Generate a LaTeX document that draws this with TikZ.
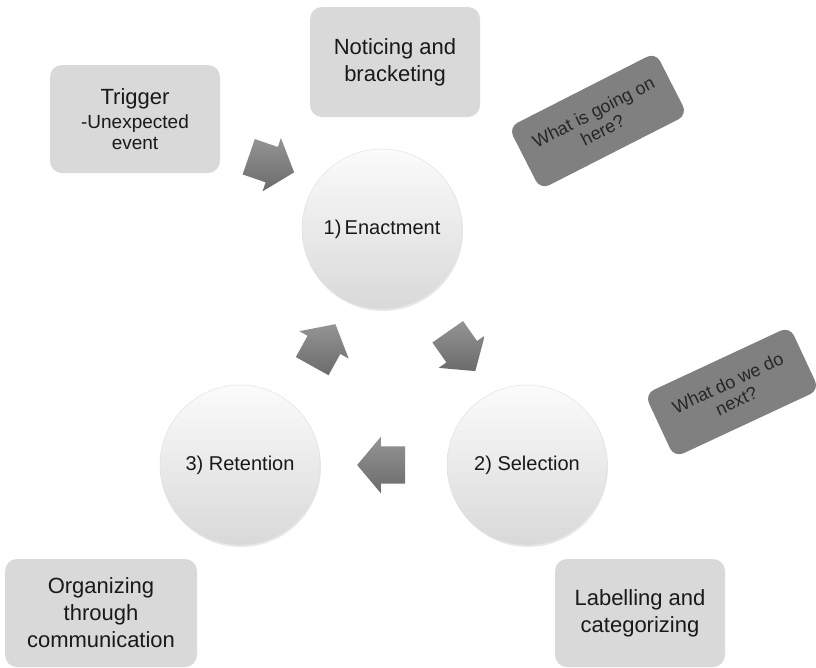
\documentclass[tikz,border=0pt]{standalone}
\usepackage{fontspec}
\setmainfont{Liberation Sans}
\usetikzlibrary{positioning,shapes.arrows,shadows}

\newcommand{\subline}{\fontsize{19}{22}\selectfont}

\begin{document}
\begin{tikzpicture}[x=1pt, y=-1pt,
  box/.style={fill=gray!30, rounded corners=12pt, minimum width=170pt, minimum height=108pt,
              align=center, text=black!90, font=\fontsize{22}{27}\selectfont, inner sep=4pt},
  qbox/.style={fill=gray, rounded corners=10pt, minimum width=165pt, minimum height=70pt,
               align=center, text=black!85, font=\fontsize{18}{20}\selectfont, rotate=27},
  stage/.style={circle, minimum size=160pt, top color=gray!3, bottom color=gray!30, draw=gray!25,
                drop shadow={opacity=0.18, shadow xshift=1pt, shadow yshift=-2pt},
                text=black!90, font=\fontsize{20}{24}\selectfont},
  blockarrow/.style={single arrow, minimum height=48pt, inner xsep=0pt, inner ysep=18.5pt,
                     single arrow head extend=9.5pt, single arrow tip angle=100,
                     top color=black!42, bottom color=black!58},
]
  % --- Canvas ---
  \fill[white] (0,0) rectangle (816,667);
  \useasboundingbox (0,0) rectangle (816,667);

  % --- Stage circles ---
  \node[stage] (enact)  at (382,229) {1)\,Enactment};
  \node[stage] (select) at (527,465) {2) Selection};
  \node[stage] (retain) at (240,465) {3) Retention};

  % --- Light boxes ---
  \node[box] (trigger) at (135,119)
    {Trigger\\[-3pt]{\subline -Unexpected}\\[-6pt]{\subline event}};
  \node[box, minimum height=110pt] (notice) at (395,62) {Noticing and\\bracketing};
  \node[box, minimum width=192pt] (organize) at (101,613) {Organizing\\through\\communication};
  \node[box] (label) at (640,613) {Labelling and\\categorizing};

  % --- Question boxes (tilted) ---
  \node[qbox] (qgoing) at (598,121) {What is going on\\here?};
  \node[qbox, minimum width=160pt, rotate=-2] (qnext) at (732,392) {What do we do\\next?};

  % --- Block arrows ---
  \node[blockarrow, rotate=-19] (atrig)  at (264,162) {};
  \node[blockarrow, rotate=-55] (aenact) at (457,345) {};
  \node[blockarrow, rotate=180] (asel)   at (389,465) {};
  \node[blockarrow, rotate=61]  (aret)   at (320,352) {};

\end{tikzpicture}
\end{document}
